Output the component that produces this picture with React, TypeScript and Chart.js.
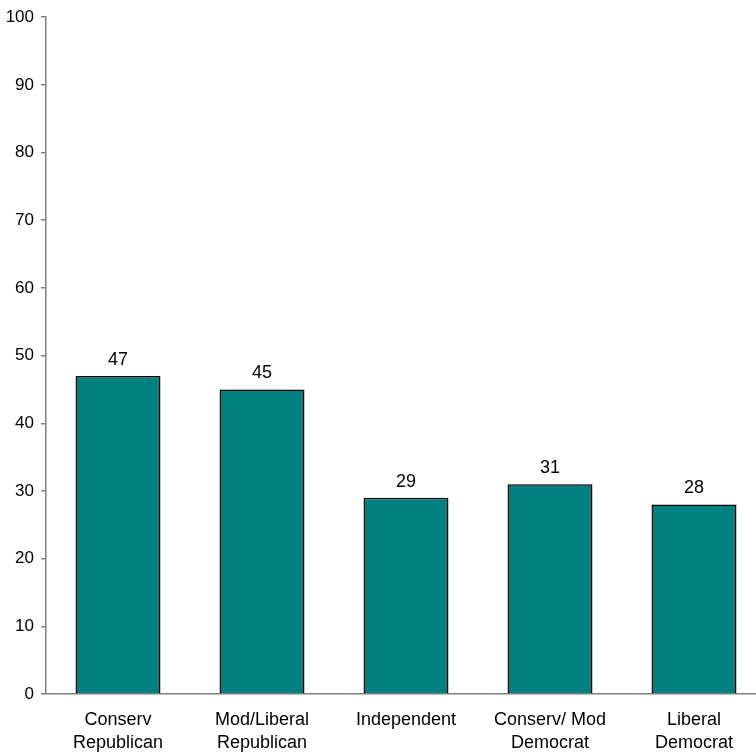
import React, { useEffect, useRef } from "react";
import { Chart, registerables } from "chart.js";

Chart.register(...registerables);

const categories: string[][] = [
  ["Conserv", "Republican"],
  ["Mod/Liberal", "Republican"],
  ["Independent"],
  ["Conserv/ Mod", "Democrat"],
  ["Liberal", "Democrat"],
];
const values: number[] = [47, 45, 29, 31, 28];
const yTicks: number[] = [0, 10, 20, 30, 40, 50, 60, 70, 80, 90, 100];

const FONT = "'Liberation Sans', Arial, sans-serif";

const valueLabels = {
  id: "valueLabels",
  afterDatasetsDraw(chart: any) {
    const ctx = chart.ctx;
    const meta = chart.getDatasetMeta(0);
    ctx.save();
    ctx.font = `18px ${FONT}`;
    ctx.fillStyle = "#000";
    ctx.textAlign = "center";
    ctx.textBaseline = "alphabetic";
    meta.data.forEach((bar: any, i: number) => {
      ctx.fillText(String(values[i]), bar.x, bar.y - 11);
    });
    ctx.restore();
  },
};

export default function App() {
  const ref = useRef<HTMLCanvasElement | null>(null);
  useEffect(() => {
    if (!ref.current) return;
    const chart = new Chart(ref.current, {
      type: "bar",
      data: {
        labels: categories,
        datasets: [
          {
            data: values,
            backgroundColor: "#008080",
            borderColor: "#000000",
            borderWidth: 1.5,
            barPercentage: 0.59,
            categoryPercentage: 1,
          },
        ],
      },
      options: {
        responsive: false,
        animation: false,
        layout: { padding: { top: 7, right: 0, bottom: 0, left: 0 } },
        plugins: { legend: { display: false }, tooltip: { enabled: false } },
        scales: {
          x: {
            grid: { display: false, drawTicks: false },
            border: { display: true, color: "#808080", width: 1.5 },
            ticks: {
              color: "#000",
              font: { family: FONT, size: 18, lineHeight: 1.25 },
              padding: 15,
              maxRotation: 0,
              autoSkip: false,
            },
            afterFit: (s: any) => {
              s.height = 61;
            },
          },
          y: {
            min: 0,
            max: 100,
            afterBuildTicks: (s: any) => {
              s.ticks = yTicks.map((v) => ({ value: v }));
            },
            grid: {
              display: true,
              drawOnChartArea: false,
              drawTicks: true,
              tickLength: 5,
              color: "#808080",
              lineWidth: 1.5,
            },
            border: { display: true, color: "#808080", width: 1.5 },
            ticks: {
              color: "#000",
              font: { family: FONT, size: 17 },
              padding: 7,
            },
            afterFit: (s: any) => {
              s.width = 46;
            },
          },
        },
      },
      plugins: [valueLabels],
    });
    return () => chart.destroy();
  }, []);
  return (
    <div
      style={{
        position: "fixed",
        left: 0,
        top: 0,
        width: 756,
        height: 755,
        overflow: "hidden",
        background: "#fff",
      }}
    >
      <canvas ref={ref} width={766} height={755} style={{ display: "block" }} />
    </div>
  );
}
